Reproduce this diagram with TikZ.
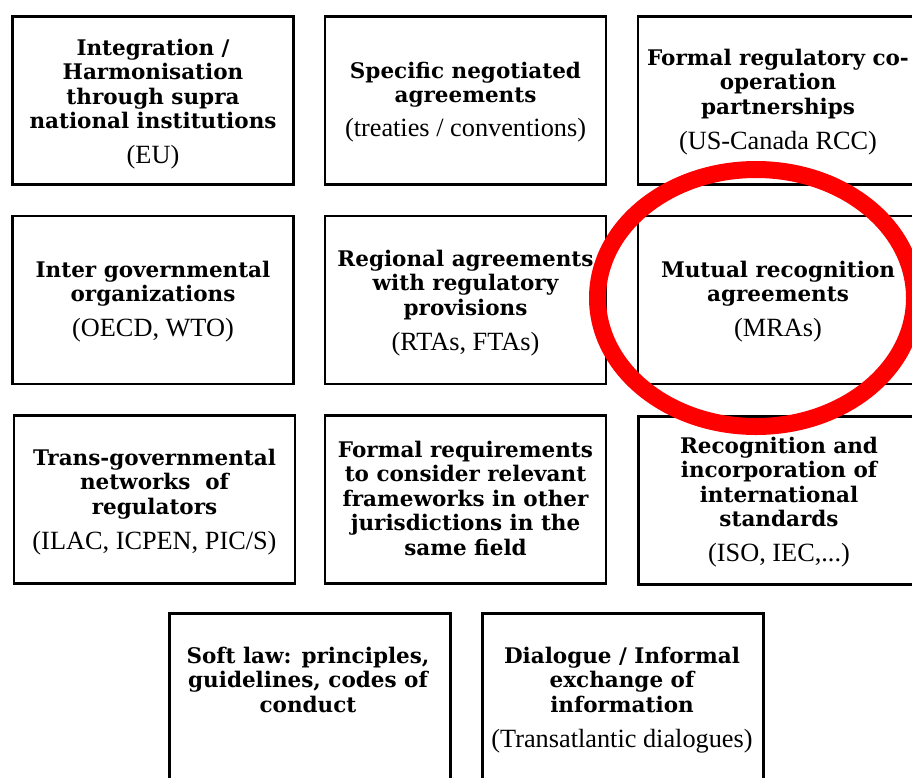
\documentclass[tikz,border=0pt]{standalone}
\usepackage{fontspec}
\setmainfont{Liberation Serif}
\newfontfamily\gfont{DejaVu Serif}
\newcommand\hb{\gfont\bfseries\fontsize{21.5}{24.5}\selectfont}
\newcommand\pr{\normalfont\fontsize{26.3}{24.5}\selectfont}
\newcommand\pgap{\noalign{\vskip 10.5pt}}
\newcommand\btext[1]{\vtop{\hb\halign{\hfil##\hfil\cr#1\crcr}}}
\begin{document}
\begin{tikzpicture}[x=1pt,y=-1pt,
  frame/.style={draw=black, line width=2.8pt, minimum width=281pt, minimum height=168pt, inner sep=0pt},
  btxt/.style={anchor=base, inner sep=0pt},
  ring/.style={draw=red, line width=17pt}]
\useasboundingbox (0,0) rectangle (912,777);
\clip (0,0) rectangle (912,777);
\fill[white] (0,0) rectangle (912,777);
% boxes
\node[frame] (b11) at (153,100.75) {};
\node[frame] (b12) at (465.5,100.75) {};
\node[frame] (b13) at (778.5,100.75) {};
\node[frame] (b21) at (153,300) {};
\node[frame] (b22) at (465.5,300) {};
\node[frame] (b23) at (778.5,300) {};
\node[frame] (b31) at (154.5,499.5) {};
\node[frame] (b32) at (465.5,499.5) {};
\node[frame] (b33) at (779,500.5) {};
\node[frame] (b41) at (310,697.5) {};
\node[frame] (b42) at (623,697.5) {};
% texts
\node[btxt] (t11) at (153,55) {\btext{Integration /\cr Harmonisation\cr through supra\cr national institutions\cr\pgap \pr (EU)}};
\node[btxt] (t12) at (465.5,78) {\btext{Specific negotiated\cr agreements\cr\noalign{\vskip 9pt}\pr (treaties / conventions)}};
\node[btxt] (t13) at (778,65) {\btext{Formal regulatory co-\cr operation\cr partnerships\cr\pgap \pr (US-Canada RCC)}};
\node[btxt] (t21) at (153,277) {\btext{Inter governmental\cr organizations\cr\pgap \pr (OECD, WTO)}};
\node[btxt] (t22) at (465.5,266) {\btext{Regional agreements\cr with regulatory\cr provisions\cr\pgap \pr (RTAs, FTAs)}};
\node[btxt] (t23) at (778,277) {\btext{Mutual recognition\cr agreements\cr\pgap \pr (MRAs)}};
\node[btxt] (t31) at (154.5,465) {\btext{Trans-governmental\cr networks\ \ of\cr regulators\cr\pgap \pr (ILAC, ICPEN, PIC/S)}};
\node[btxt] (t32) at (465.5,457) {\btext{Formal requirements\cr to consider relevant\cr frameworks in other\cr jurisdictions in the\cr same field}};
\node[btxt] (t33) at (779,453) {\btext{Recognition and\cr incorporation of\cr international\cr standards\cr\pgap \pr (ISO, IEC,...)}};
\node[btxt] (t41) at (308,663) {\btext{Soft law: principles,\cr guidelines, codes of\cr conduct}};
\node[btxt] (t42) at (622,663) {\btext{Dialogue / Informal\cr exchange of\cr information\cr\pgap \pr (Transatlantic dialogues)}};
% highlight ring
\draw[ring] (756,298) ellipse [x radius=158.5, y radius=128.5];
\end{tikzpicture}
\end{document}
